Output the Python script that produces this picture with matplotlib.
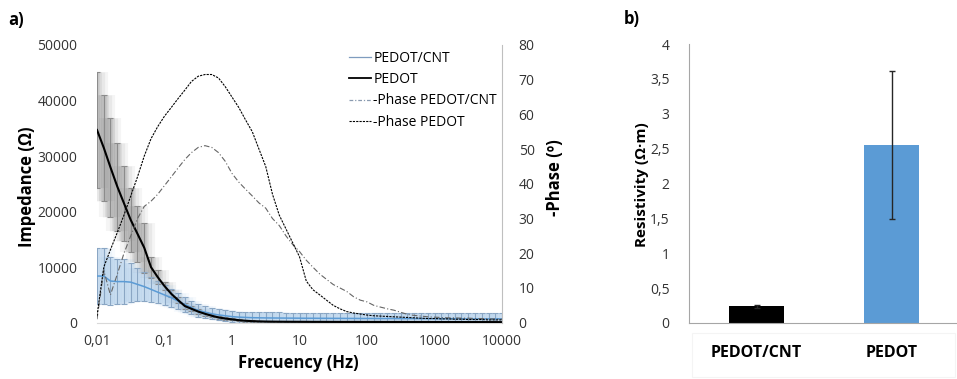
import matplotlib
matplotlib.use('Agg')
import matplotlib.pyplot as plt
from matplotlib.lines import Line2D
from matplotlib.patches import Rectangle
from matplotlib.ticker import NullLocator
import numpy as np

plt.rcParams['font.family'] = ['Open Sans', 'DejaVu Sans']

# frequency sweep (Hz)
freq = [0.01, 0.0126, 0.0158, 0.02, 0.0251, 0.0316, 0.0398, 0.0501, 0.0631, 0.0794,
        0.1, 0.126, 0.158, 0.2, 0.251, 0.316, 0.398, 0.501, 0.631, 0.794,
        1, 1.26, 1.58, 2, 2.51, 3.16, 3.98, 5.01, 6.31, 7.94,
        10, 12.6, 15.8, 20, 25.1, 31.6, 39.8, 50.1, 63.1, 79.4,
        100, 126, 158, 200, 251, 316, 398, 501, 631, 794,
        1000, 1260, 1580, 2000, 2510, 3160, 3980, 5010, 6310, 7940,
        10000]

# impedance (ohm)
z_pedot = [34700, 31500, 28000, 24500, 21500, 18500, 16000, 13500, 10000, 8200,
           6600, 5200, 4100, 3000, 2500, 2000, 1600, 1250, 950, 750,
           600, 450, 350, 280, 240, 210, 190, 180, 170, 165,
           160, 155, 150, 150, 145, 145, 140, 140, 140, 135,
           135, 135, 130, 130, 130, 130, 125, 125, 125, 125,
           120, 120, 120, 120, 120, 115, 115, 115, 115, 110,
           110]
err_pedot = [10500, 9500, 8900, 7900, 6700, 5800, 5000, 4500, 1900, 1300,
             700, 600, 550, 500, 450, 400, 350, 300, 250, 220,
             200, 180, 160, 150, 140, 130, 120, 110, 100, 100,
             100, 100, 100, 100, 100, 100, 100, 100, 100, 100,
             100, 100, 100, 100, 100, 100, 100, 100, 100, 100,
             100, 100, 100, 100, 100, 100, 100, 100, 100, 100,
             100]
z_cnt = [8400, 8400, 7500, 7400, 7400, 7300, 6900, 6500, 6000, 5500,
         5000, 4500, 3900, 3300, 2700, 2200, 1900, 1600, 1400, 1250,
         1100, 1000, 950, 900, 880, 860, 850, 840, 830, 820,
         810, 800, 800, 790, 790, 780, 780, 770, 770, 760,
         760, 760, 750, 750, 750, 740, 740, 740, 730, 730,
         730, 720, 720, 720, 710, 710, 710, 700, 700, 700,
         700]
err_cnt = [5100, 5000, 4300, 4100, 4000, 3500, 3000, 2600, 2300, 2000,
           1800, 1600, 1400, 1300, 1200, 1100, 1050, 1000, 1000, 1000,
           1000, 1000, 1000, 1000, 1000, 1000, 1000, 1000, 1000, 1000,
           1000, 1000, 1000, 1000, 1000, 1000, 1000, 1000, 1000, 1000,
           1000, 1000, 1000, 1000, 1000, 1000, 1000, 1000, 1000, 1000,
           1000, 1000, 1000, 1000, 1000, 1000, 1000, 1000, 1000, 1000,
           1000]

# -phase (degrees)
ph_pedot = [2, 16, 21, 26, 31, 36.5, 42, 48, 53, 56.5,
            59.5, 62, 64.5, 67, 69.5, 71, 71.5, 71.5, 70.5, 68,
            65, 62, 58.5, 55, 50, 45, 37, 31, 27, 23,
            19, 12, 9.5, 8, 6.5, 5, 4, 3.2, 2.8, 2.5,
            2.2, 2.0, 1.9, 1.8, 1.7, 1.6, 1.5, 1.4, 1.3, 1.2,
            1.2, 1.1, 1.1, 1.0, 1.0, 0.9, 0.9, 0.9, 0.8, 0.8,
            0.8]
ph_cnt = [1, 15, 8, 14, 20, 25, 30, 33.5, 35, 37,
          39.5, 42, 44.5, 47, 49, 50.5, 51, 50.5, 49, 46.5,
          43, 40.5, 38.5, 36.5, 34.5, 33, 30, 28, 25, 22.5,
          20.5, 18, 16, 14, 12.5, 11, 10, 9, 7.5, 6.5,
          6, 5, 4.5, 4, 3.6, 3, 2.4, 2.1, 1.9, 1.7,
          1.6, 1.5, 1.4, 1.4, 1.3, 1.3, 1.2, 1.2, 1.1, 1.1,
          1.0]

# resistivity panel
materials = ['PEDOT/CNT', 'PEDOT']
resistivity = [0.24, 2.55]
res_err = [0.02, 1.06]

fig = plt.figure(figsize=(9.57, 3.79), dpi=100)

W, H = 957, 379
def fx(px):
    return px / W
def fy(py):
    return 1 - py / H

ax = fig.add_axes([fx(97), fy(322.7), (502 - 97) / W, (322.7 - 45) / H])
ax2 = ax.twinx()

f = np.array(freq)

def glow(a, x, y, e, color, base):
    y = np.array(y)
    e = np.array(e)
    for lw, al in [(16, base * 0.6), (11, base * 0.8), (7, base), (4, base * 1.2)]:
        a.vlines(x, y - e, y + e, colors=color, lw=lw, alpha=al, zorder=1)

glow(ax, f, z_pedot, err_pedot, '#808080', 0.13)
glow(ax, f, z_cnt, err_cnt, '#9dc3e6', 0.13)
ax.errorbar(f, z_pedot, yerr=err_pedot, fmt='none', ecolor='#8c8c8c',
            elinewidth=0.8, capsize=2, capthick=0.8, zorder=2)
ax.errorbar(f, z_cnt, yerr=err_cnt, fmt='none', ecolor='#8aa6c4',
            elinewidth=0.8, capsize=2, capthick=0.8, zorder=2)
ax.plot(f, z_cnt, color='#5b9bd5', lw=1.1, zorder=3)
ax.plot(f, z_pedot, color='black', lw=1.5, zorder=3)

ax2.plot(f, ph_cnt, color='#666666', lw=0.8, ls=(0, (5, 2, 1, 2)))
ax2.plot(f, ph_pedot, color='black', lw=0.8, ls=(0, (2, 1)))

ax.set_xscale('log')
ax.set_xlim(0.01, 10000)
ax.set_ylim(0, 50000)
ax2.set_ylim(0, 80)
ax.set_xticks([0.01, 0.1, 1, 10, 100, 1000, 10000])
ax.set_xticklabels(['0,01', '0,1', '1', '10', '100', '1000', '10000'])
ax.xaxis.set_minor_locator(NullLocator())
ax.set_yticks(range(0, 50001, 10000))
ax2.set_yticks(range(0, 81, 10))

for s in ['left', 'top', 'right']:
    ax.spines[s].set_visible(False)
ax.spines['bottom'].set_color('#d9d9d9')
for s in ['left', 'top', 'bottom']:
    ax2.spines[s].set_visible(False)
ax2.spines['right'].set_color('#bfbfbf')

ax.tick_params(axis='both', length=0, labelsize=10, labelcolor='#333333', pad=8)
ax.tick_params(axis='y', pad=14)
ax2.tick_params(axis='y', length=0, labelsize=10, labelcolor='#333333', pad=12)

handles = [
    Line2D([], [], color='#7f9cbf', lw=0.9),
    Line2D([], [], color='black', lw=1.3),
    Line2D([], [], color='#8a9bb0', lw=0.9, ls=(0, (3, 1.5, 1, 1.5))),
    Line2D([], [], color='black', lw=0.8, ls=(0, (2, 1))),
]
labels = ['PEDOT/CNT', 'PEDOT', '-Phase PEDOT/CNT', '-Phase PEDOT']
fig.legend(handles, labels, loc='upper left', bbox_to_anchor=(fx(342), fy(44)),
           frameon=False, fontsize=10, handlelength=1.6, handletextpad=0.15,
           labelspacing=0.45, borderpad=0)

fig.text(fx(27), fy(187), 'Impedance (Ω)', rotation=90, ha='center', va='center',
         fontsize=12, fontweight='bold')
fig.text(fx(555), fy(178), '-Phase (º)', rotation=90, ha='center', va='center',
         fontsize=12, fontweight='bold')
fig.text(fx(298), fy(363), 'Frecuency (Hz)', ha='center', va='center',
         fontsize=12, fontweight='bold')
fig.text(fx(16), fy(20), 'a)', ha='center', va='center', fontsize=12, fontweight='bold')
fig.text(fx(632), fy(19), 'b)', ha='center', va='center', fontsize=12, fontweight='bold')

# right panel
bx = fig.add_axes([fx(689), fy(323), 270 / W, (323 - 44) / H])
xpos = np.arange(len(materials))
bx.bar(xpos, resistivity, width=0.41, color=['black', '#5b9bd5'])
bx.errorbar(xpos, resistivity, yerr=res_err, fmt='none', ecolor='#262626',
            elinewidth=1, capsize=2, capthick=1)
bx.set_xlim(-0.5, 1.5)
bx.set_ylim(0, 4)
bx.set_yticks(np.arange(0, 4.01, 0.5))
bx.set_yticklabels(['0', '0,5', '1', '1,5', '2', '2,5', '3', '3,5', '4'])
bx.set_xticks(xpos)
bx.set_xticklabels(materials, fontsize=11.5, fontweight='bold')
for s in ['top', 'right']:
    bx.spines[s].set_visible(False)
bx.spines['left'].set_color('#a6a6a6')
bx.spines['bottom'].set_color('#a6a6a6')
bx.tick_params(axis='both', length=0, labelcolor='#333333')
bx.tick_params(axis='y', labelsize=10, pad=14)
bx.tick_params(axis='x', pad=16, labelcolor='black')
fig.text(fx(642), fy(185), 'Resistivity (Ω·m)', rotation=90, ha='center', va='center',
         fontsize=11, fontweight='bold')
fig.patches.append(Rectangle((fx(692), fy(377)), (955 - 692) / W, (377 - 333) / H,
                             transform=fig.transFigure, fill=False,
                             edgecolor='#f4f4f4', lw=0.8))

fig.savefig('out.png', dpi=100)
